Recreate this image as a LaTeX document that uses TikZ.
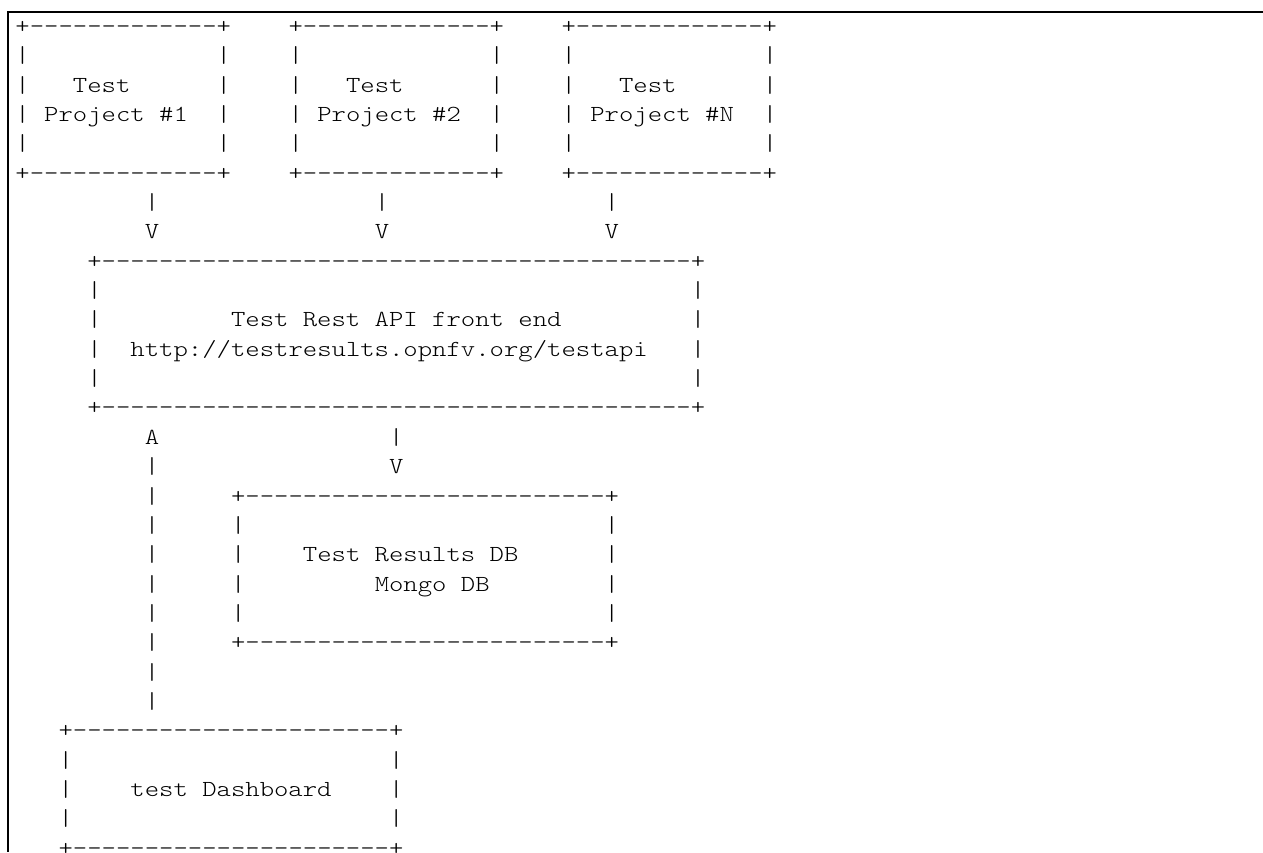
\documentclass[tikz,border=0pt]{standalone}
\usepackage{fontspec}
\newfontfamily\asciifont{Latin Modern Mono Light}[FakeStretch=1.19]
\tikzset{
  asc/.style={anchor=base west, inner sep=0pt, outer sep=0pt,
    font=\asciifont\fontsize{23}{29.35}\selectfont, text=black},
  frame/.style={draw=black, line width=1.4pt}
}
\newcommand\seg[4]{\node[asc] (#1) at ({15.5+#3*14.37},{-(33.4+(#2-1)*29.35)}) {#4};}
\newcommand\bars[2]{\foreach \c in {#2} {\node[asc] (bar-#1-\c) at ({15.5+\c*14.37},{-(33.4+(#1-1)*29.35)}) {|};}}
\begin{document}
\begin{tikzpicture}[x=1pt,y=1pt]
\useasboundingbox (0,0) rectangle (1263,-852);
\begin{scope}
\clip (0,0) rectangle (1263,-852);
% frame
\coordinate (ftl) at (8,-12);
\coordinate (ftr) at (1263,-12);
\coordinate (fbl) at (8,-852);
\draw[frame] (ftr) -- (ftl) -- (fbl);
% top boxes
\foreach \r in {1,6} {
  \seg{p1-\r}{\r}{0}{+-------------+}
  \seg{p2-\r}{\r}{19}{+-------------+}
  \seg{p3-\r}{\r}{38}{+-------------+}
}
\bars{2}{0,14,19,33,38,52}
\bars{3}{0,14,19,33,38,52}
\bars{4}{0,14,19,33,38,52}
\bars{5}{0,14,19,33,38,52}
\seg{t1}{3}{4}{Test}
\seg{t2}{3}{23}{Test}
\seg{t3}{3}{42}{Test}
\seg{pr1}{4}{2}{Project \#1}
\seg{pr2}{4}{21}{Project \#2}
\seg{pr3}{4}{40}{Project \#N}
% arrows down
\bars{7}{9,25,41}
\seg{v1}{8}{9}{V}
\seg{v2}{8}{25}{V}
\seg{v3}{8}{41}{V}
% API box
\seg{api-top}{9}{5}{+-----------------------------------------+}
\bars{10}{5,47}
\bars{11}{5,47}
\bars{12}{5,47}
\bars{13}{5,47}
\seg{api-bot}{14}{5}{+-----------------------------------------+}
\seg{api1}{11}{15}{Test Rest API front end}
\seg{api2}{12}{8}{http://testresults.opnfv.org/testapi}
% below API
\seg{up}{15}{9}{A}
\bars{15}{26}
\bars{16}{9}
\seg{v4}{16}{26}{V}
% DB box
\seg{db-top}{17}{15}{+-------------------------+}
\seg{db-bot}{22}{15}{+-------------------------+}
\bars{17}{9}
\bars{18}{9,15,41}
\bars{19}{9,15,41}
\bars{20}{9,15,41}
\bars{21}{9,15,41}
\bars{22}{9}
\bars{23}{9}
\bars{24}{9}
\seg{db1}{19}{20}{Test Results DB}
\seg{db2}{20}{25}{Mongo DB}
% dashboard
\seg{ds-top}{25}{3}{+----------------------+}
\bars{26}{3,26}
\bars{27}{3,26}
\bars{28}{3,26}
\seg{ds}{27}{8}{test Dashboard}
\seg{ds-bot}{29}{3}{+----------------------+}
\end{scope}
\end{tikzpicture}
\end{document}
